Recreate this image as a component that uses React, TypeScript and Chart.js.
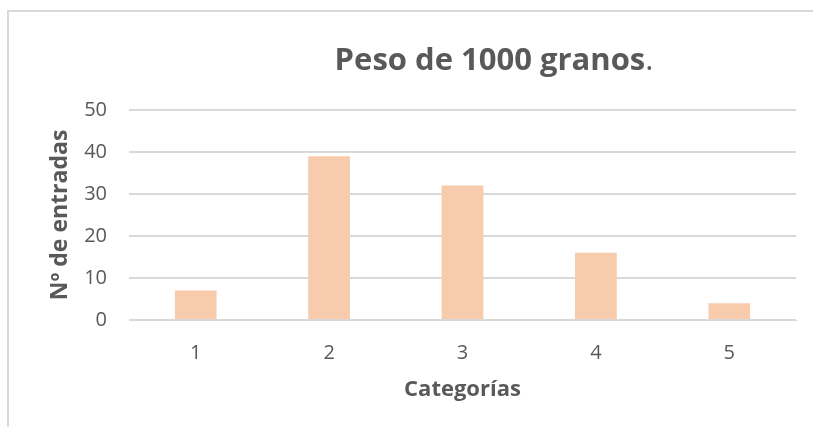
import React, { useEffect, useRef } from "react";
import { Chart, registerables } from "chart.js";

Chart.register(...registerables);

const categories: string[] = ["1", "2", "3", "4", "5"];
const entradas: number[] = [7, 39, 32, 16, 4];
const titleBold = "Peso de 1000 granos";
const titleTail = ".";
const yTitle = "Nº de entradas";
const xTitle = "Categorías";

const FONT = "'Open Sans', 'DejaVu Sans', sans-serif";
const TEXT = "#595959";
const GRID = "#d9d9d9";

const framePlugin = {
  id: "frame",
  beforeDraw(chart: any) {
    const { ctx } = chart;
    ctx.save();
    ctx.fillStyle = "#ffffff";
    ctx.fillRect(0, 0, chart.width, chart.height);
    ctx.strokeStyle = GRID;
    ctx.lineWidth = 2;
    ctx.beginPath();
    ctx.moveTo(8, chart.height);
    ctx.lineTo(8, 11);
    ctx.lineTo(chart.width, 11);
    ctx.stroke();
    ctx.restore();
  },
  afterDraw(chart: any) {
    const { ctx } = chart;
    ctx.save();
    ctx.textBaseline = "alphabetic";
    ctx.fillStyle = TEXT;
    const boldFont = `bold 31px ${FONT}`;
    const normFont = `normal 31px ${FONT}`;
    ctx.font = boldFont;
    const w1 = ctx.measureText(titleBold).width;
    ctx.font = normFont;
    const w2 = ctx.measureText(titleTail).width;
    const total = w1 + w2;
    const cx = 494;
    const x0 = cx - total / 2;
    const y = 70;
    ctx.textAlign = "left";
    ctx.font = boldFont;
    ctx.fillText(titleBold, x0, y);
    ctx.font = normFont;
    ctx.fillText(titleTail, x0 + w1, y);
    ctx.restore();
  },
};

export default function App() {
  const ref = useRef<HTMLCanvasElement | null>(null);
  useEffect(() => {
    if (!ref.current) return;
    const chart = new Chart(ref.current, {
      type: "bar",
      data: {
        labels: categories,
        datasets: [
          {
            label: "Nº de entradas",
            data: entradas,
            backgroundColor: "#F8CBAD",
            borderWidth: 0,
            categoryPercentage: 1,
            barPercentage: 0.313,
          },
        ],
      },
      options: {
        responsive: false,
        animation: false,
        layout: { padding: { top: 110, right: 17, bottom: 0, left: 0 } },
        plugins: {
          legend: { display: false },
          tooltip: { enabled: false },
          title: { display: false },
        },
        scales: {
          x: {
            grid: { display: false, drawTicks: false },
            border: { display: true, color: GRID, width: 1 },
            ticks: { color: TEXT, font: { family: FONT, size: 20 }, padding: 21 },
            title: {
              display: true,
              text: xTitle,
              color: TEXT,
              font: { family: FONT, size: 22, weight: "bold" },
              padding: { top: 0, bottom: 24 },
            },
            afterFit(scale: any) {
              scale.height = 107;
            },
          },
          y: {
            min: 0,
            max: 50,
            ticks: { stepSize: 10, color: TEXT, font: { family: FONT, size: 20 }, padding: 22 },
            grid: { color: GRID, lineWidth: 2, drawTicks: false },
            border: { display: false },
            title: {
              display: true,
              text: yTitle,
              color: TEXT,
              font: { family: FONT, size: 23, weight: "bold" },
              padding: { top: 47, bottom: 0 },
            },
            afterFit(scale: any) {
              scale.width = 129;
            },
          },
        },
      },
      plugins: [framePlugin],
    });
    return () => chart.destroy();
  }, []);
  return (
    <div style={{ position: "absolute", left: 0, top: 0, width: 813, height: 427 }}>
      <canvas ref={ref} width={813} height={427} />
    </div>
  );
}
